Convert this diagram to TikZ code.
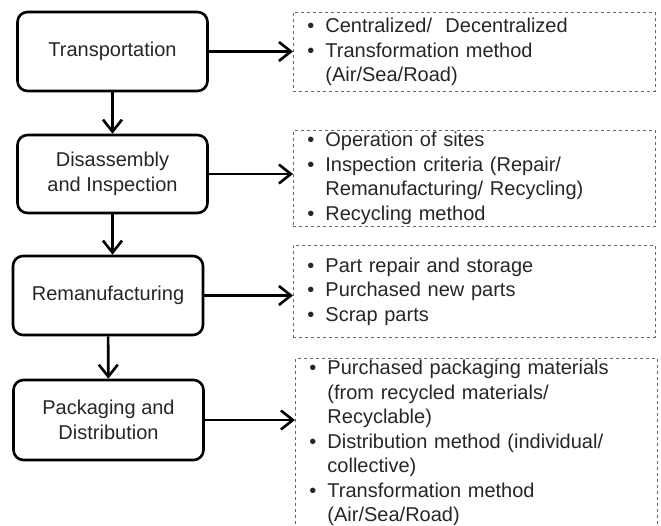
\documentclass[tikz,border=0pt]{standalone}
\usepackage{fontspec}
\setmainfont{Liberation Sans}
\usetikzlibrary{arrows.meta}

% bullet and indent for the dashed lists
\newcommand{\bul}{\makebox[18pt][l]{\textbullet}}
\newcommand{\ind}{\hspace*{18pt}}

\begin{document}
\begin{tikzpicture}[x=1pt,y=-1pt,thick]
    % `stage' is used for the rounded boxes on the left.
    % `detail' is used for the dashed lists on the right.
    % `flow' is used for all arrows.
    \tikzstyle{stage} = [draw,line width=2.6pt,rounded corners=10pt,minimum width=190pt,align=center,font=\fontsize{20}{24.5}\selectfont,text=black!85]
    \tikzstyle{detail} = [draw=black!60,dashed,line width=0.9pt,anchor=north west,inner xsep=14pt,inner ysep=2pt,text width=334pt,align=left,font=\fontsize{20}{24.5}\selectfont,text=black!85]
    \tikzstyle{flow} = [line width=2.6pt,-{Straight Barb[length=12pt,width=19pt,line width=2.6pt]}]
    %
    \useasboundingbox (0,0) rectangle (661,525);
    %
    \node[stage,minimum height=79pt] (trans) at (112.5,51.5) {Transportation};
    \node[stage,minimum height=78pt] (disas) at (112.5,174) {Disassembly\\and Inspection};
    \node[stage,minimum height=79pt] (reman) at (108,295.5) {Remanufacturing};
    \node[stage,minimum height=80pt] (pack) at (108.5,420) {Packaging and\\Distribution};
    %
    \node[detail,minimum height=79pt] (rtrans) at (293,12) {\bul Centralized/\ \ Decentralized\\\bul Transformation method\\\ind (Air/Sea/Road)};
    \node[detail,minimum height=96pt] (rdisas) at (293,130) {\bul Operation of sites\\\bul Inspection criteria (Repair/\\\ind Remanufacturing/ Recycling)\\\bul Recycling method};
    \node[detail,minimum height=92pt] (rreman) at (293,245) {\bul Part repair and storage\\\bul Purchased new parts\\\bul Scrap parts};
    \node[detail,minimum height=167pt] (rpack) at (295,358) {\bul Purchased packaging materials\\\ind (from recycled materials/\\\ind Recyclable)\\\bul Distribution method (individual/\\\ind collective)\\\bul Transformation method\\\ind (Air/Sea/Road)};
    %
    % Draw arrows.
    \draw[flow] (trans) -- (disas);
    \draw[flow] (disas.south) -- (disas.south |- reman.north);
    \draw[flow] (reman) -- (pack);
    \draw[flow] (trans.east) -- (trans.east -| rtrans.west);
    \draw[flow] (disas.east) -- (disas.east -| rdisas.west);
    \draw[flow] (reman.east) -- (reman.east -| rreman.west);
    \draw[flow] (pack.east) -- (pack.east -| rpack.west);
\end{tikzpicture}
\end{document}
